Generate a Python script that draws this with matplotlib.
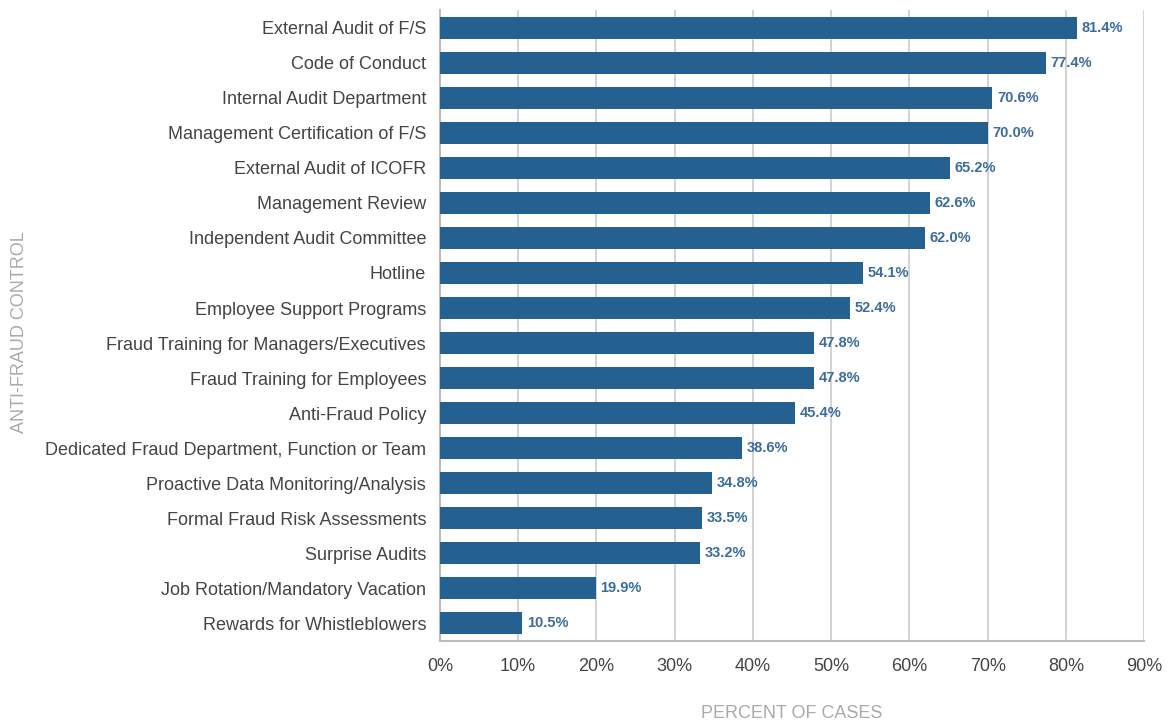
import matplotlib.pyplot as plt
import numpy as np

plt.rcParams['font.family'] = ['Liberation Sans', 'DejaVu Sans']

controls = [
    'External Audit of F/S',
    'Code of Conduct',
    'Internal Audit Department',
    'Management Certification of F/S',
    'External Audit of ICOFR',
    'Management Review',
    'Independent Audit Committee',
    'Hotline',
    'Employee Support Programs',
    'Fraud Training for Managers/Executives',
    'Fraud Training for Employees',
    'Anti-Fraud Policy',
    'Dedicated Fraud Department, Function or Team',
    'Proactive Data Monitoring/Analysis',
    'Formal Fraud Risk Assessments',
    'Surprise Audits',
    'Job Rotation/Mandatory Vacation',
    'Rewards for Whistleblowers',
]
percent = [81.4, 77.4, 70.6, 70.0, 65.2, 62.6, 62.0, 54.1, 52.4, 47.8,
           47.8, 45.4, 38.6, 34.8, 33.5, 33.2, 19.9, 10.5]
xticks = [0, 10, 20, 30, 40, 50, 60, 70, 80, 90]

fig = plt.figure(figsize=(11.7, 7.21), dpi=100)
ax = fig.add_axes([0.376, 0.111, 0.602, 0.875])

y = np.arange(len(controls))
ax.barh(y, percent, height=0.63, color='#246190', zorder=3)
for yi, v in zip(y, percent):
    ax.text(v + 0.6, yi, '%.1f%%' % v, va='center', ha='left',
            fontsize=10.5, color='#3a6c9e', fontweight='bold')

ax.set_ylim(len(controls) - 0.5, -0.5)
ax.set_xlim(0, 90)
ax.set_xticks(xticks)
ax.set_xticklabels(['%d%%' % t for t in xticks])
ax.set_yticks(y)
ax.set_yticklabels(controls)
ax.tick_params(axis='both', length=0, colors='#444444', labelsize=13)
ax.tick_params(axis='x', pad=12)
ax.tick_params(axis='y', pad=10)
ax.grid(axis='x', color='#c8c8c8', linewidth=1.1, zorder=0)
for s in ['top', 'right']:
    ax.spines[s].set_visible(False)
for s in ['left', 'bottom']:
    ax.spines[s].set_color('#bbbbbb')
    ax.spines[s].set_linewidth(1.5)

ax.set_xlabel('PERCENT OF CASES', color='#aaaaaa', fontsize=13, labelpad=22)
fig.text(0.017, 0.54, 'ANTI-FRAUD CONTROL', rotation=90, color='#aaaaaa',
         fontsize=13, va='center', ha='center')

fig.savefig('out.png', dpi=100)
